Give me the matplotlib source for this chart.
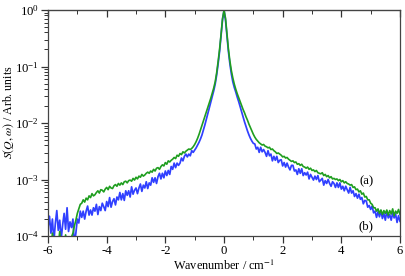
import numpy as np
import matplotlib
matplotlib.use("Agg")
import matplotlib.pyplot as plt
from matplotlib.ticker import LogLocator, MultipleLocator, NullFormatter

plt.rcParams['font.family'] = ['Liberation Serif', 'DejaVu Serif']
plt.rcParams['mathtext.fontset'] = 'stix'
plt.rcParams['axes.unicode_minus'] = False

# wavenumber grid (cm^-1), 0.05 step from -6 to 6
wavenumber = np.round(np.linspace(-6.0, 6.0, 241), 2)

# log10 S(Q,w)
log_a = [
    -4.20, -4.05, -4.25, -3.95, -4.15, -4.30, -4.02, -4.18, -3.92, -4.22,
    -4.10, -4.26, -3.98, -4.15, -4.08, -4.20, -4.02, -3.95, -3.82, -3.72,
    -3.60, -3.52, -3.44, -3.42, -3.36, -3.40, -3.33, -3.36, -3.29, -3.32,
    -3.25, -3.29, -3.27, -3.23, -3.20, -3.24, -3.18, -3.19, -3.22, -3.17,
    -3.14, -3.18, -3.12, -3.15, -3.16, -3.11, -3.09, -3.12, -3.07, -3.10,
    -3.06, -3.09, -3.04, -3.03, -3.06, -3.02, -3.01, -3.03, -2.98, -3.01,
    -2.96, -2.99, -2.94, -2.96, -2.91, -2.94, -2.92, -2.89, -2.87, -2.89,
    -2.85, -2.87, -2.82, -2.85, -2.80, -2.79, -2.82, -2.77, -2.74, -2.76,
    -2.70, -2.73, -2.67, -2.69, -2.66, -2.64, -2.61, -2.63, -2.57, -2.59,
    -2.54, -2.56, -2.51, -2.53, -2.50, -2.48, -2.46, -2.47, -2.45, -2.42,
    -2.38, -2.33, -2.27, -2.20, -2.12, -2.04, -1.96, -1.88, -1.80, -1.72,
    -1.64, -1.56, -1.47, -1.38, -1.27, -1.11, -0.91, -0.69, -0.43, -0.15,
    -0.01,
    -0.14, -0.42, -0.69, -0.90, -1.07, -1.20, -1.31, -1.40, -1.48, -1.55,
    -1.62, -1.69, -1.76, -1.82, -1.89, -1.95, -2.02, -2.08, -2.14, -2.20,
    -2.25, -2.29, -2.32, -2.35, -2.37, -2.39, -2.38, -2.41, -2.42, -2.44,
    -2.43, -2.47, -2.46, -2.49, -2.51, -2.54, -2.53, -2.55, -2.57, -2.60,
    -2.59, -2.62, -2.61, -2.64, -2.66, -2.68, -2.67, -2.70, -2.69, -2.73,
    -2.72, -2.75, -2.73, -2.77, -2.78, -2.80, -2.78, -2.82, -2.80, -2.84,
    -2.83, -2.86, -2.84, -2.88, -2.89, -2.90, -2.88, -2.93, -2.91, -2.95,
    -2.93, -2.97, -2.95, -2.99, -2.98, -3.00, -2.99, -3.02, -3.00, -3.04,
    -3.02, -3.06, -3.04, -3.07, -3.08, -3.10, -3.09, -3.14, -3.13, -3.18,
    -3.17, -3.22, -3.20, -3.26, -3.24, -3.31, -3.30, -3.36, -3.36, -3.42,
    -3.44, -3.50, -3.50, -3.56, -3.52, -3.60, -3.54, -3.62, -3.55, -3.60,
    -3.54, -3.63, -3.55, -3.61, -3.52, -3.64, -3.56, -3.60, -3.53, -3.62,
]

log_b = [
    -3.85, -3.65, -3.95, -3.70, -4.10, -3.78, -3.55, -3.90, -3.72, -4.05,
    -3.80, -3.60, -3.88, -3.50, -3.92, -3.75, -3.85, -3.70, -4.15, -3.95,
    -3.70, -3.77, -3.56, -3.67, -3.56, -3.70, -3.56, -3.47, -3.63, -3.54,
    -3.63, -3.50, -3.56, -3.44, -3.62, -3.48, -3.55, -3.42, -3.48, -3.55,
    -3.39, -3.48, -3.32, -3.49, -3.39, -3.34, -3.45, -3.31, -3.36, -3.23,
    -3.36, -3.25, -3.37, -3.20, -3.28, -3.20, -3.31, -3.13, -3.26, -3.19,
    -3.15, -3.25, -3.15, -3.08, -3.21, -3.10, -3.15, -3.04, -3.16, -3.06,
    -3.10, -2.97, -3.05, -2.97, -3.07, -2.95, -2.89, -2.99, -2.89, -2.97,
    -2.85, -2.93, -2.84, -2.91, -2.77, -2.82, -2.71, -2.79, -2.71, -2.75,
    -2.71, -2.62, -2.67, -2.59, -2.55, -2.60, -2.55, -2.58, -2.49, -2.52,
    -2.48, -2.44, -2.39, -2.34, -2.28, -2.21, -2.12, -2.03, -1.93, -1.83,
    -1.73, -1.63, -1.53, -1.43, -1.31, -1.15, -0.95, -0.73, -0.46, -0.17,
    -0.01,
    -0.17, -0.46, -0.73, -0.95, -1.13, -1.27, -1.37, -1.45, -1.54, -1.62,
    -1.71, -1.80, -1.89, -1.98, -2.06, -2.14, -2.21, -2.27, -2.32, -2.36,
    -2.37, -2.46, -2.43, -2.52, -2.43, -2.51, -2.47, -2.52, -2.59, -2.49,
    -2.58, -2.55, -2.67, -2.59, -2.66, -2.59, -2.70, -2.66, -2.65, -2.76,
    -2.70, -2.78, -2.71, -2.78, -2.83, -2.75, -2.75, -2.85, -2.83, -2.91,
    -2.81, -2.89, -2.81, -2.93, -2.88, -2.92, -2.87, -2.99, -2.91, -2.96,
    -3.01, -2.94, -3.00, -2.93, -3.04, -3.01, -2.98, -3.10, -3.02, -3.07,
    -3.00, -3.07, -3.12, -3.04, -3.07, -3.14, -3.06, -3.14, -3.06, -3.17,
    -3.12, -3.20, -3.12, -3.18, -3.24, -3.14, -3.24, -3.20, -3.30, -3.25,
    -3.33, -3.26, -3.35, -3.32, -3.43, -3.37, -3.38, -3.49, -3.46, -3.53,
    -3.47, -3.59, -3.56, -3.67, -3.57, -3.66, -3.55, -3.69, -3.60, -3.72,
    -3.56, -3.68, -3.62, -3.72, -3.59, -3.68, -3.61, -3.76, -3.64, -3.74,
]

series_labels = ["(a)", "(b)"]
green = "#1f9e1f"
blue = "#3040ff"

fig = plt.figure(figsize=(4.06, 2.76), dpi=100)
ax = fig.add_axes([48/406, 1-236/276, 352/406, 226/276])

ax.plot(wavenumber, 10.0**np.array(log_b), color=blue, lw=1.25)
ax.plot(wavenumber, 10.0**np.array(log_a), color=green, lw=1.2)

ax.set_xlim(-6, 6)
ax.set_ylim(1e-4, 1)
ax.set_yscale('log')
ax.xaxis.set_major_locator(MultipleLocator(2))
ax.xaxis.set_minor_locator(MultipleLocator(1))
ax.yaxis.set_major_locator(LogLocator(base=10, numticks=10))
ax.yaxis.set_minor_locator(LogLocator(base=10, subs=np.arange(2, 10), numticks=10))
ax.yaxis.set_minor_formatter(NullFormatter())

ax.tick_params(axis='both', which='both', direction='out', labelsize=9.2,
               colors='#333333', labelcolor='black', pad=1.5)
ax.tick_params(which='major', length=5, width=0.9)
ax.tick_params(which='minor', length=3, width=0.7)
ax.tick_params(axis='x', which='both', top=False, labeltop=False)

# top ticks point inward
sec = ax.secondary_xaxis('top')
sec.xaxis.set_major_locator(MultipleLocator(2))
sec.xaxis.set_minor_locator(MultipleLocator(1))
sec.tick_params(which='both', direction='in', labeltop=False, colors='#333333')
sec.tick_params(which='major', length=5, width=0.9)
sec.tick_params(which='minor', length=3, width=0.7)

for s in ax.spines.values():
    s.set_color('#444444')
    s.set_linewidth(0.9)

ax.set_xlabel("Wavenumber / cm$^{-1}$", fontsize=8.8)
ax.set_ylabel(r"$S(Q,\omega)$ / Arb. units", fontsize=8.6)
ax.xaxis.set_label_coords(0.5, (236 - 259) / 226)
ax.yaxis.set_label_coords((16 - 48) / 352, (236 - 112) / 226)

ax.text(4.86, 10**-3.04, series_labels[0], fontsize=9.2, ha='center', va='center')
ax.text(4.84, 10**-3.82, series_labels[1], fontsize=9.2, ha='center', va='center')

fig.savefig("out.png", dpi=100)
